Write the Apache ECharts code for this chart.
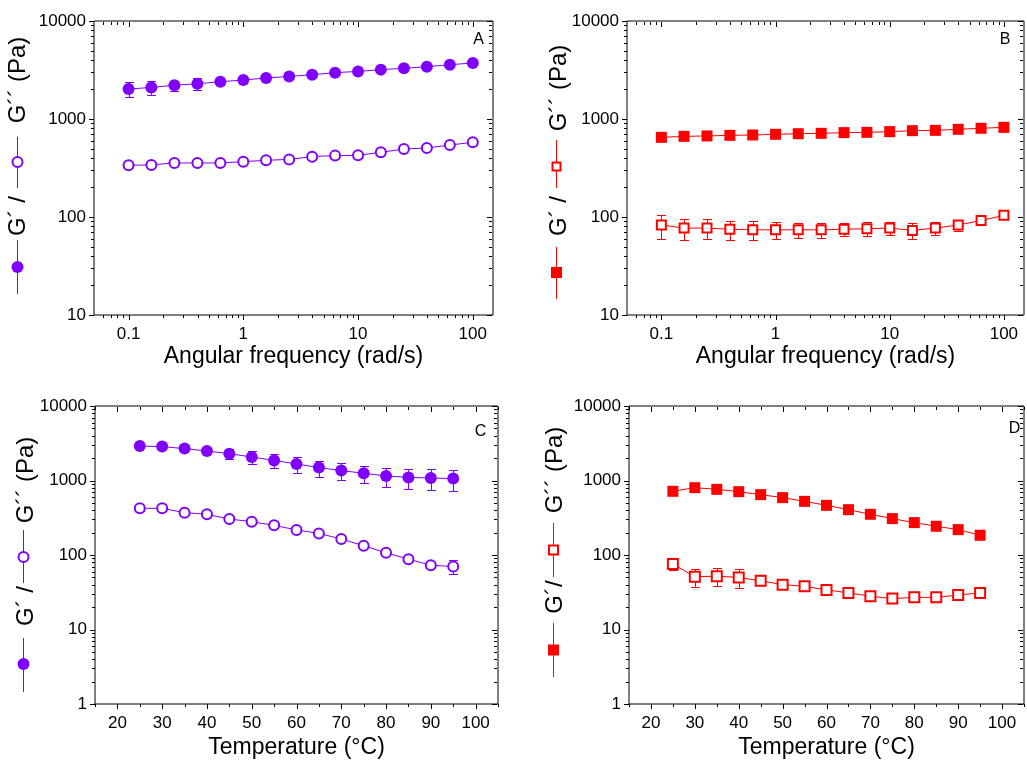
<!DOCTYPE html>
<html>
<head>
<meta charset="utf-8">
<script src="https://cdn.jsdelivr.net/npm/echarts@6/dist/echarts.min.js"></script>
<style>html,body{margin:0;padding:0;background:#fff;}#c{width:1027px;height:761px;}</style>
</head>
<body>
<div id="c"></div>
<script>
// ---------- data ----------
const freq = [0.1, 0.158, 0.251, 0.398, 0.631, 1, 1.58, 2.51, 3.98, 6.31, 10, 15.8, 25.1, 39.8, 63.1, 100];
const temp = [25, 30, 35, 40, 45, 50, 55, 60, 65, 70, 75, 80, 85, 90, 95];

const A_Gp     = [2020, 2100, 2210, 2290, 2400, 2500, 2620, 2720, 2830, 2970, 3060, 3190, 3290, 3420, 3580, 3730];
const A_GpErr  = [350, 330, 260, 300, 200, 180, 150, 120, 120, 120, 120, 120, 120, 120, 120, 120];
const A_Gpp    = [337, 340, 356, 356, 356, 367, 379, 387, 413, 423, 426, 457, 494, 506, 543, 578];
const A_GppErr = [15, 15, 25, 20, 15, 15, 15, 15, 15, 15, 25, 15, 15, 20, 20, 25];

const B_Gp     = [650, 665, 672, 681, 687, 698, 708, 714, 726, 731, 743, 760, 766, 785, 804, 822];
const B_GpErr  = [40, 40, 40, 40, 40, 40, 40, 40, 40, 40, 40, 40, 40, 40, 40, 40];
const B_Gpp    = [83, 77, 77, 75, 74, 74, 74, 74, 75, 76, 77, 73, 77, 83, 92, 104];
const B_GppErr = [23, 19, 18, 17, 16, 14, 13, 13, 11, 12, 12, 13, 12, 11, 9, 6];

const C_Gp     = [2900, 2850, 2680, 2490, 2290, 2070, 1860, 1670, 1490, 1360, 1250, 1150, 1100, 1080, 1060];
const C_GpErr  = [100, 100, 100, 120, 340, 410, 390, 400, 360, 340, 325, 330, 330, 330, 330];
const C_Gpp    = [423, 423, 370, 352, 304, 280, 250, 217, 195, 164, 133, 107, 88, 73, 70];
const C_GppErr = [30, 30, 25, 25, 20, 20, 15, 15, 10, 10, 10, 8, 6, 5, 15];

const D_Gp     = [716, 801, 761, 708, 646, 589, 525, 464, 406, 352, 308, 272, 243, 219, 184];
const D_GpErr  = [40, 40, 40, 40, 40, 35, 30, 25, 25, 20, 20, 15, 20, 20, 15];
const D_Gpp    = [76, 51, 52, 50, 45, 40, 38, 34, 31, 28, 26, 27, 27, 29, 31];
const D_GppErr = [13, 14, 14, 14, 4, 3, 3, 3, 2, 2, 2, 2, 2, 2, 2];

// tick values
const freqMajor = [0.1, 1, 10, 100];
const freqMinor = [0.06, 0.07, 0.08, 0.09, 0.2, 0.3, 0.4, 0.5, 0.6, 0.7, 0.8, 0.9, 2, 3, 4, 5, 6, 7, 8, 9, 20, 30, 40, 50, 60, 70, 80, 90];
const tempMajor = [20, 30, 40, 50, 60, 70, 80, 90, 100];
const tempMinor = [15, 25, 35, 45, 55, 65, 75, 85, 95, 105];
const modMajorAB = [10, 100, 1000, 10000];
const modMinorAB = [20, 30, 40, 50, 60, 70, 80, 90, 200, 300, 400, 500, 600, 700, 800, 900, 2000, 3000, 4000, 5000, 6000, 7000, 8000, 9000];
const modMajorCD = [1, 10, 100, 1000, 10000];
const modMinorCD = [2, 3, 4, 5, 6, 7, 8, 9].concat(modMinorAB);

const xTitleFreq = 'Angular frequency (rad/s)';
const xTitleTemp = 'Temperature (°C)';
const yTitle1 = 'G´ /';
const yTitle1D = 'G´/';
const yTitle2 = 'G´´ (Pa)';
const letters = ['A', 'B', 'C', 'D'];

// ---------- styling ----------
const PURPLE = '#8000ff';
const RED = '#ff0000';
const FONT = '"Liberation Sans", Arial, Helvetica, sans-serif';

const grids = [
  {left: 94, top: 21, width: 399, height: 294},
  {left: 627, top: 21, width: 399, height: 294},
  {left: 95, top: 406, width: 403, height: 298},
  {left: 629, top: 406, width: 402, height: 298}
];

function logLabel(v) {
  const l = Math.log10(v);
  if (Math.abs(l - Math.round(l)) > 1e-6) return '';
  return String(+v.toPrecision(6));
}

function xAxisLog(gi) {
  return {
    gridIndex: gi, type: 'log', logBase: 10, min: 0.05, max: 150,
    name: xTitleFreq, nameLocation: 'middle', nameGap: 30,
    nameTextStyle: {fontFamily: FONT, fontSize: 23, color: '#000'},
    axisLine: {show: false}, axisTick: {show: false}, splitLine: {show: false}, minorTick: {show: false},
    axisLabel: {fontFamily: FONT, fontSize: 17, color: '#000', margin: 11, formatter: logLabel}
  };
}
function xAxisTemp(gi) {
  return {
    gridIndex: gi, type: 'value', min: 15, max: 105, interval: 5,
    name: xTitleTemp, nameLocation: 'middle', nameGap: 32,
    nameTextStyle: {fontFamily: FONT, fontSize: 23, color: '#000'},
    axisLine: {show: false}, axisTick: {show: false}, splitLine: {show: false},
    axisLabel: {fontFamily: FONT, fontSize: 17, color: '#000', margin: 11,
      formatter: v => (Math.abs(v % 10) < 1e-9 ? String(v) : '')}
  };
}
function yAxisLog(gi, mn) {
  return {
    gridIndex: gi, type: 'log', logBase: 10, min: mn, max: 10000,
    axisLine: {show: false}, axisTick: {show: false}, splitLine: {show: false}, minorTick: {show: false},
    axisLabel: {fontFamily: FONT, fontSize: 17, color: '#000', margin: 8, formatter: logLabel}
  };
}

function lineSeries(gi, xs, ys, sym, filled, color, size) {
  return {
    type: 'line', xAxisIndex: gi, yAxisIndex: gi, z: 3, silent: true, clip: false,
    data: xs.map((x, i) => [x, ys[i]]),
    symbol: sym, symbolSize: size, showSymbol: true,
    lineStyle: {color: color, width: 1},
    itemStyle: filled ? {color: color} : {color: '#fff', borderColor: color, borderWidth: 2}
  };
}

// thin filled rectangle (used for 1px lines so colour is reliable)
function bar(x, y, w, h, color) {
  return {type: 'rect', shape: {x: x, y: y, width: w, height: h}, style: {fill: color}};
}

function errSeries(gi, xs, ys, es, color) {
  return {
    type: 'custom', xAxisIndex: gi, yAxisIndex: gi, z: 2, silent: true, clip: false,
    itemStyle: {color: color},
    data: xs.map((x, i) => [x, ys[i], es[i]]),
    encode: {x: 0, y: 1},
    renderItem: function (params, api) {
      const x = api.value(0), y = api.value(1), e = api.value(2);
      const lo = api.coord([x, y - e]), hi = api.coord([x, y + e]);
      const px = Math.round(lo[0]);
      const yl = Math.round(lo[1]), yh = Math.round(hi[1]);
      return {type: 'group', children: [
        bar(px, yh, 1, yl - yh + 1, color),
        bar(px - 4, yl, 9, 1, color),
        bar(px - 4, yh, 9, 1, color)
      ]};
    }
  };
}

function tickSeries(gi, xRef, yRef, xMaj, xMin, yMaj, yMin) {
  return {
    type: 'custom', xAxisIndex: gi, yAxisIndex: gi, z: 5, silent: true, clip: false,
    itemStyle: {color: '#000'},
    data: [[xRef, yRef]],
    encode: {x: 0, y: 1},
    renderItem: function (params, api) {
      const cs = params.coordSys;
      const L = Math.round(cs.x), R = Math.round(cs.x + cs.width) - 1;
      const T = Math.round(cs.y), B = Math.round(cs.y + cs.height) - 1;
      const ch = [];
      const xt = (vals, len) => vals.forEach(v => {
        const x = Math.round(api.coord([v, yRef])[0]);
        ch.push(bar(x, B + 1, 1, len, '#000'));
        ch.push(bar(x, T + 1, 1, len, '#000'));
      });
      const yt = (vals, len) => vals.forEach(v => {
        const y = Math.round(api.coord([xRef, v])[1]);
        ch.push(bar(L - len, y, len, 1, '#000'));
        ch.push(bar(R - len, y, len, 1, '#000'));
      });
      xt(xMaj, 5); xt(xMin, 3); yt(yMaj, 5); yt(yMin, 3);
      return {type: 'group', children: ch};
    }
  };
}

// ---------- y titles (legend-like) ----------
function txt(x, y, text, size, rot) {
  return {type: 'text', x: x, y: y, rotation: rot ? Math.PI / 2 : 0, silent: true,
    style: {text: text, font: size + 'px ' + FONT, fill: '#000',
      textAlign: 'center', textVerticalAlign: 'middle', align: 'center', verticalAlign: 'middle'}};
}
function vline(x, y1, y2, color) {
  return {type: 'rect', silent: true, shape: {x: x, y: y1, width: 1, height: y2 - y1}, style: {fill: color}};
}
function circ(cx, cy, r, color, filled) {
  return {type: 'circle', silent: true, shape: {cx, cy, r},
    style: filled ? {fill: color} : {fill: '#fff', stroke: color, lineWidth: 2}};
}
function sq(cx, cy, s, color, filled) {
  return {type: 'rect', silent: true, shape: {x: cx - s / 2, y: cy - s / 2, width: s, height: s},
    style: filled ? {fill: color} : {fill: '#fff', stroke: color, lineWidth: 2}};
}

const graphics = [
  // A
  vline(17, 240, 294, PURPLE), circ(17.5, 267, 6, PURPLE, true),
  vline(17, 137, 188, PURPLE), circ(17.5, 162, 5, PURPLE, false),
  txt(18, 216, yTitle1, 24, true),
  txt(18, 80, yTitle2, 24, true),
  // B
  vline(556, 247, 299, RED), sq(556.5, 272.5, 11, RED, true),
  vline(556, 140, 188, RED), sq(556.5, 166.5, 8, RED, false),
  txt(559.5, 216, yTitle1, 24, true),
  txt(559.5, 88, yTitle2, 24, true),
  // C
  vline(23, 638, 692, PURPLE), circ(23.5, 664, 6, PURPLE, true),
  vline(23, 530, 583, PURPLE), circ(23.5, 557, 5, PURPLE, false),
  txt(26, 606, yTitle1, 24, true),
  txt(26, 480, yTitle2, 24, true),
  // D
  vline(553, 623, 677, RED), sq(553.5, 650, 11, RED, true),
  vline(553, 523, 577, RED), sq(553.5, 550, 9, RED, false),
  txt(555.5, 597, yTitle1D, 24, true),
  txt(555.5, 470, yTitle2, 24, true),
  // letters
  txt(478.5, 40, letters[0], 16, false),
  txt(1005, 40, letters[1], 16, false),
  txt(480.5, 432, letters[2], 16, false),
  txt(1014.5, 429, letters[3], 16, false)
];

const option = {
  backgroundColor: '#fff',
  animation: false,
  textStyle: {fontFamily: FONT},
  grid: grids.map(g => Object.assign({show: true, borderColor: '#000', borderWidth: 1, backgroundColor: 'transparent', containLabel: false}, g)),
  xAxis: [xAxisLog(0), xAxisLog(1), xAxisTemp(2), xAxisTemp(3)],
  yAxis: [yAxisLog(0, 10), yAxisLog(1, 10), yAxisLog(2, 1), yAxisLog(3, 1)],
  series: [
    tickSeries(0, 1, 100, freqMajor, freqMinor, modMajorAB, modMinorAB),
    tickSeries(1, 1, 100, freqMajor, freqMinor, modMajorAB, modMinorAB),
    tickSeries(2, 50, 100, tempMajor, tempMinor, modMajorCD, modMinorCD),
    tickSeries(3, 50, 100, tempMajor, tempMinor, modMajorCD, modMinorCD),

    errSeries(0, freq, A_Gp, A_GpErr, PURPLE),
    errSeries(0, freq, A_Gpp, A_GppErr, PURPLE),
    lineSeries(0, freq, A_Gp, 'circle', true, PURPLE, 12),
    lineSeries(0, freq, A_Gpp, 'circle', false, PURPLE, 10),

    errSeries(1, freq, B_Gp, B_GpErr, RED),
    errSeries(1, freq, B_Gpp, B_GppErr, RED),
    lineSeries(1, freq, B_Gp, 'rect', true, RED, 11),
    lineSeries(1, freq, B_Gpp, 'rect', false, RED, 9),

    errSeries(2, temp, C_Gp, C_GpErr, PURPLE),
    errSeries(2, temp, C_Gpp, C_GppErr, PURPLE),
    lineSeries(2, temp, C_Gp, 'circle', true, PURPLE, 12),
    lineSeries(2, temp, C_Gpp, 'circle', false, PURPLE, 10),

    errSeries(3, temp, D_Gp, D_GpErr, RED),
    errSeries(3, temp, D_Gpp, D_GppErr, RED),
    lineSeries(3, temp, D_Gp, 'rect', true, RED, 11),
    lineSeries(3, temp, D_Gpp, 'rect', false, RED, 10)
  ],
  graphic: {elements: graphics}
};

const chart = echarts.init(document.getElementById('c'), null, {renderer: 'canvas'});
chart.setOption(option);
</script>
</body>
</html>
